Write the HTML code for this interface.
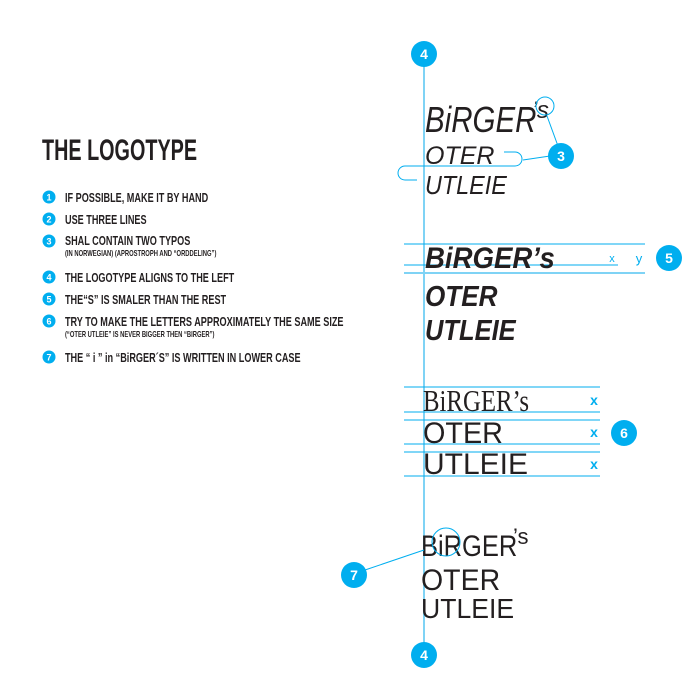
<!DOCTYPE html>
<html><head><meta charset="utf-8"><style>
html,body{margin:0;padding:0;background:#fff;width:700px;height:700px;overflow:hidden}
svg text{font-family:"Liberation Sans",sans-serif}
.c{fill:#00aeef}
.n{fill:#fff;font-weight:bold;font-size:14px;text-anchor:middle}
.li{font-weight:bold;font-size:12.5px;fill:#231f20}
.sm{font-weight:bold;font-size:8px;fill:#231f20}
.bn{fill:#fff;font-weight:bold;font-size:9px;text-anchor:middle}
.gl{stroke:#00aeef;stroke-width:1}
.lg{fill:#231f20}
</style></head><body>
<svg width="700" height="700" viewBox="0 0 700 700" xmlns="http://www.w3.org/2000/svg">
<text x="42" y="160" font-size="30" font-weight="bold" fill="#231f20" transform="translate(42,0) scale(0.66,1) translate(-42,0)">THE LOGOTYPE</text>
<g transform="translate(65,0) scale(0.73,1) translate(-65,0)">
<text class="li" x="65" y="202">IF POSSIBLE, MAKE IT BY HAND</text>
<text class="li" x="65" y="224">USE THREE LINES</text>
<text class="li" x="65" y="245">SHAL CONTAIN TWO TYPOS</text>
<text class="sm" x="65" y="256">(IN NORWEGIAN) (APROSTROPH AND “ORDDELING”)</text>
<text class="li" x="65" y="282">THE LOGOTYPE ALIGNS TO THE LEFT</text>
<text class="li" x="65" y="304">THE“S” IS SMALER THAN THE REST</text>
<text class="li" x="65" y="326">TRY TO MAKE THE LETTERS APPROXIMATELY THE SAME SIZE</text>
<text class="sm" x="65" y="337">(“OTER UTLEIE” IS NEVER BIGGER THEN “BIRGER”)</text>
<text class="li" x="65" y="362">THE “ i ” in “BiRGER´S” IS WRITTEN IN LOWER CASE</text>
</g>
<g>
<circle class="c" cx="49" cy="197" r="6.5"/><text class="bn" x="49" y="200.5">1</text>
<circle class="c" cx="49" cy="219" r="6.5"/><text class="bn" x="49" y="222.5">2</text>
<circle class="c" cx="49" cy="241" r="6.5"/><text class="bn" x="49" y="244.5">3</text>
<circle class="c" cx="49" cy="277" r="6.5"/><text class="bn" x="49" y="280.5">4</text>
<circle class="c" cx="49" cy="299" r="6.5"/><text class="bn" x="49" y="302.5">5</text>
<circle class="c" cx="49" cy="321" r="6.5"/><text class="bn" x="49" y="324.5">6</text>
<circle class="c" cx="49" cy="357" r="6.5"/><text class="bn" x="49" y="360.5">7</text>
</g>

<line x1="424" y1="55" x2="424" y2="655" stroke="#7fd3f5" stroke-width="2"/>

<!-- logo 1 -->
<g class="lg" font-style="italic">
<text x="425" y="132" font-size="36" transform="translate(425,0) scale(0.82,1) translate(-425,0)">BiRGER</text>
<text x="532" y="118" font-size="24">’s</text>
<text x="425" y="164" font-size="25">OTER</text>
<text x="425" y="194" font-size="26" transform="translate(425,0) scale(0.9,1) translate(-425,0)">UTLEIE</text>
</g>
<circle cx="545" cy="106" r="9" fill="none" stroke="#00aeef" stroke-width="1"/>
<line x1="547" y1="116" x2="558" y2="146" class="gl"/>
<path d="M504 152 H515 A7 7 0 0 1 515 166 H405 A7 7 0 0 0 405 180 H417" fill="none" class="gl"/>
<line x1="523" y1="160" x2="550" y2="156" class="gl"/>
<circle class="c" cx="561" cy="156" r="13"/><text class="n" x="561" y="161">3</text>

<!-- logo 2 -->
<line x1="404" y1="244" x2="645" y2="244" class="gl"/>
<line x1="404" y1="265" x2="618" y2="265" class="gl"/>
<line x1="404" y1="273" x2="645" y2="273" stroke="#7fd3f5" stroke-width="2"/>
<g class="lg" font-weight="bold" font-style="italic">
<text x="425" y="268" font-size="30" transform="translate(425,0) scale(0.92,1) translate(-425,0)">BiRGER’s</text>
<text x="425" y="306" font-size="29" transform="translate(425,0) scale(0.9,1) translate(-425,0)">OTER</text>
<text x="425" y="340" font-size="29" transform="translate(425,0) scale(0.88,1) translate(-425,0)">UTLEIE</text>
</g>
<text x="612" y="262" font-size="11" fill="#00aeef" text-anchor="middle">x</text>
<text x="639" y="263" font-size="13" fill="#00aeef" text-anchor="middle">y</text>
<circle class="c" cx="669" cy="258" r="13"/><text class="n" x="669" y="263">5</text>

<!-- logo 3 -->
<g class="gl">
<line x1="404" y1="387" x2="600" y2="387"/><line x1="404" y1="412" x2="600" y2="412"/>
<line x1="404" y1="420" x2="600" y2="420"/><line x1="404" y1="444" x2="600" y2="444"/>
<line x1="404" y1="452" x2="600" y2="452"/><line x1="404" y1="476" x2="600" y2="476"/>
</g>
<g class="lg">
<text x="423" y="411" font-size="31" style="font-family:'Liberation Serif',serif" transform="translate(423,0) scale(0.8,1) translate(-423,0)">BiRGER’s</text>
<text x="423" y="443" font-size="30" transform="translate(423,0) scale(0.96,1) translate(-423,0)">OTER</text>
<text x="423" y="474" font-size="30">UTLEIE</text>
</g>
<g fill="#00aeef" font-size="14" text-anchor="middle" font-weight="bold">
<text x="594" y="405">x</text><text x="594" y="437">x</text><text x="594" y="469">x</text>
</g>
<circle class="c" cx="624" cy="433" r="13"/><text class="n" x="624" y="438">6</text>

<!-- logo 4 -->
<g class="lg">
<text x="421" y="556" font-size="30" transform="translate(421,0) scale(0.85,1) translate(-421,0)">BiRGER</text>
<text x="513" y="544" font-size="22">’s</text>
<text x="421" y="590" font-size="30" transform="translate(421,0) scale(0.95,1) translate(-421,0)">OTER</text>
<text x="421" y="618" font-size="28" transform="translate(421,0) scale(0.95,1) translate(-421,0)">UTLEIE</text>
</g>
<circle cx="446" cy="542" r="14" fill="none" stroke="#00aeef" stroke-width="1"/>
<line x1="365" y1="570" x2="424" y2="550" class="gl"/>
<circle class="c" cx="354" cy="575" r="13"/><text class="n" x="354" y="580">7</text>

<circle class="c" cx="424" cy="54" r="13"/><text class="n" x="424" y="59">4</text>
<circle class="c" cx="424" cy="655" r="13"/><text class="n" x="424" y="660">4</text>
</svg>
</body></html>
